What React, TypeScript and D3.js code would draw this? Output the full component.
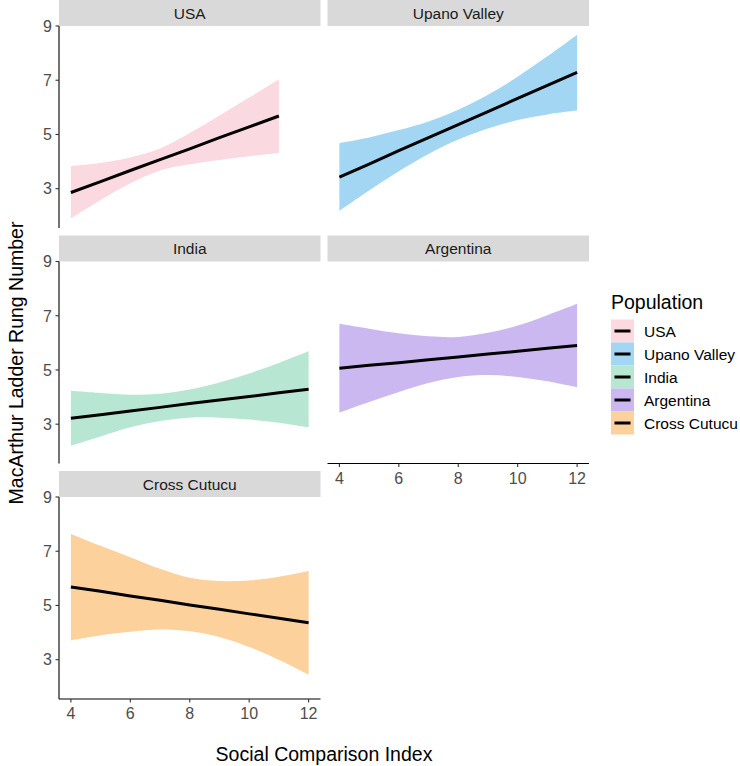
import React from "react";
import * as d3 from "d3";

const populations = ["USA", "Upano Valley", "India", "Argentina", "Cross Cutucu"];
const fills = ["#FBD9E0", "#A3D6F3", "#B7E6D3", "#CCB8F1", "#FCD19C"];

const usaX = [4, 5, 6, 7, 8, 9, 10, 11];
const usaFit = [2.86, 3.26, 3.67, 4.07, 4.47, 4.88, 5.28, 5.68];
const usaLow = [1.9, 2.58, 3.2, 3.67, 3.9, 4.06, 4.2, 4.32];
const usaHigh = [3.84, 3.95, 4.15, 4.48, 5.05, 5.7, 6.36, 7.04];

const upanoX = [4, 5, 6, 7, 8, 9, 10, 11, 12];
const upanoFit = [3.43, 3.91, 4.4, 4.88, 5.36, 5.84, 6.33, 6.81, 7.29];
const upanoLow = [2.18, 2.93, 3.64, 4.28, 4.81, 5.22, 5.53, 5.74, 5.88];
const upanoHigh = [4.68, 4.89, 5.16, 5.48, 5.91, 6.46, 7.13, 7.88, 8.68];

const indiaX = [4, 5, 6, 7, 8, 9, 10, 11, 12];
const indiaFit = [3.22, 3.35, 3.49, 3.62, 3.76, 3.89, 4.02, 4.16, 4.29];
const indiaLow = [2.21, 2.55, 2.89, 3.12, 3.24, 3.24, 3.17, 3.05, 2.88];
const indiaHigh = [4.23, 4.15, 4.09, 4.12, 4.28, 4.54, 4.87, 5.26, 5.69];

const argX = [4, 5, 6, 7, 8, 9, 10, 11, 12];
const argFit = [5.06, 5.17, 5.27, 5.38, 5.48, 5.59, 5.69, 5.8, 5.9];
const argLow = [3.43, 3.82, 4.19, 4.52, 4.74, 4.81, 4.74, 4.58, 4.36];
const argHigh = [6.7, 6.52, 6.35, 6.24, 6.22, 6.37, 6.64, 7.02, 7.44];

const crossX = [4, 5, 6, 7, 8, 9, 10, 11, 12];
const crossFit = [5.68, 5.52, 5.35, 5.19, 5.02, 4.86, 4.69, 4.53, 4.36];
const crossLow = [3.71, 3.9, 4.03, 4.11, 4.05, 3.84, 3.47, 3.0, 2.45];
const crossHigh = [7.64, 7.2, 6.78, 6.35, 6.02, 5.9, 5.92, 6.06, 6.27];

const xTicks = [4, 6, 8, 10, 12];
const yTicks = [3, 5, 7, 9];

const seriesX = [usaX, upanoX, indiaX, argX, crossX];
const seriesFit = [usaFit, upanoFit, indiaFit, argFit, crossFit];
const seriesLow = [usaLow, upanoLow, indiaLow, argLow, crossLow];
const seriesHigh = [usaHigh, upanoHigh, indiaHigh, argHigh, crossHigh];

const FONT = "'Liberation Sans', Arial, Helvetica, sans-serif";

export default function App() {
  const W = 740, H = 766;
  const colX = [59, 327.5];
  const pW = 261.5;
  const stripH = 26;
  const pH = 202;
  const gap = 7.5;
  const rowTop = (r: number) => r * (stripH + pH + gap);

  const x0 = d3.scaleLinear().domain([3.6, 12.4]).range([0, pW]);
  const y0 = d3.scaleLinear().domain([1.55, 9.0]).range([pH, 0]);

  const panels = populations.map((name, i) => {
    const col = i % 2;
    const row = Math.floor(i / 2);
    const px = colX[col];
    const py = rowTop(row) + stripH;
    const xs = seriesX[i];
    const pts = xs.map((xv, k) => ({ x: xv, f: seriesFit[i][k], lo: seriesLow[i][k], hi: seriesHigh[i][k] }));
    const area = d3.area<any>().x((d) => x0(d.x)).y0((d) => y0(d.lo)).y1((d) => y0(d.hi)).curve(d3.curveCatmullRom);
    const line = d3.line<any>().x((d) => x0(d.x)).y((d) => y0(d.f));
    const showX = i >= 3;
    const showY = col === 0;
    return (
      <g key={name}>
        <rect x={px} y={rowTop(row)} width={pW} height={stripH} fill="#D9D9D9" />
        <text x={px + pW / 2} y={rowTop(row) + stripH / 2 + 5.5} textAnchor="middle" fontSize={15.5} fill="#1A1A1A" fontFamily={FONT}>{name}</text>
        <g transform={`translate(${px},${py})`}>
          <path d={area(pts) || ""} fill={fills[i]} />
          <path d={line(pts) || ""} fill="none" stroke="#000" strokeWidth={3} />
          {showY && (
            <g>
              <line x1={0} x2={0} y1={0} y2={pH} stroke="#000" strokeWidth={1.1} />
              {yTicks.map((t) => (
                <g key={t}>
                  <line x1={-3.5} x2={0} y1={y0(t)} y2={y0(t)} stroke="#333" strokeWidth={1.1} />
                  <text x={-7} y={y0(t) + 5.8} textAnchor="end" fontSize={16} fill="#4D4D4D" fontFamily={FONT}>{t}</text>
                </g>
              ))}
            </g>
          )}
          {showX && (
            <g>
              <line x1={0} x2={pW} y1={pH} y2={pH} stroke="#000" strokeWidth={1.1} />
              {xTicks.map((t) => (
                <g key={t}>
                  <line x1={x0(t)} x2={x0(t)} y1={pH} y2={pH + 3.5} stroke="#333" strokeWidth={1.1} />
                  <text x={x0(t)} y={pH + 20} textAnchor="middle" fontSize={16} fill="#4D4D4D" fontFamily={FONT}>{t}</text>
                </g>
              ))}
            </g>
          )}
        </g>
      </g>
    );
  });

  const legX = 611, legTitleY = 309, keyTop = 319.5, keyH = 23, keyW = 23;

  return (
    <svg width={W} height={H} style={{ position: "absolute", left: 0, top: 0, background: "#fff" }} fontFamily={FONT}>
      <rect x={0} y={0} width={W} height={H} fill="#fff" />
      {panels}
      <text transform={`translate(23,363) rotate(-90)`} textAnchor="middle" fontSize={19.5} fill="#000" fontFamily={FONT}>MacArthur Ladder Rung Number</text>
      <text x={324} y={761} textAnchor="middle" fontSize={19.5} fill="#000" fontFamily={FONT}>Social Comparison Index</text>
      <text x={legX} y={legTitleY} fontSize={19.5} fill="#000" fontFamily={FONT}>Population</text>
      {populations.map((p, i) => (
        <g key={p}>
          <rect x={legX} y={keyTop + i * keyH} width={keyW} height={keyH} fill={fills[i]} />
          <line x1={legX + 3.5} x2={legX + keyW - 3.5} y1={keyTop + i * keyH + keyH / 2} y2={keyTop + i * keyH + keyH / 2} stroke="#000" strokeWidth={3} />
          <text x={644} y={keyTop + i * keyH + keyH / 2 + 5.5} fontSize={15.5} fill="#000" fontFamily={FONT}>{p}</text>
        </g>
      ))}
    </svg>
  );
}
